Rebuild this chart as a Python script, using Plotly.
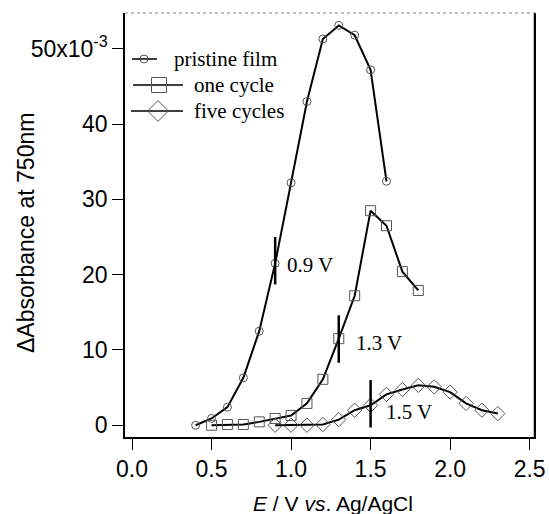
import plotly.graph_objects as go

# ---- data (y in units of 1e-3) ----
pristine_x = [0.4, 0.5, 0.6, 0.7, 0.8, 0.9, 1.0, 1.1, 1.2, 1.3, 1.4, 1.5, 1.6]
pristine_y = [0.0, 0.9, 2.4, 6.3, 12.5, 21.5, 32.2, 43.0, 51.3, 53.1, 51.8, 47.2, 32.4]

one_x = [0.5, 0.6, 0.7, 0.8, 0.9, 1.0, 1.1, 1.2, 1.3, 1.4, 1.5, 1.6, 1.7, 1.8]
one_y = [0.0, 0.1, 0.1, 0.45, 0.9, 1.3, 2.9, 6.1, 11.5, 17.2, 28.5, 26.5, 20.4, 17.9]

five_x = [0.9, 1.0, 1.1, 1.2, 1.3, 1.4, 1.5, 1.6, 1.7, 1.8, 1.9, 2.0, 2.1, 2.2, 2.3]
five_y = [0.0, 0.0, 0.0, 0.1, 0.75, 2.0, 2.65, 4.1, 4.75, 5.3, 5.1, 4.4, 2.9, 2.0, 1.55]

series_names = ["pristine film", "one cycle", "five cycles"]

# onset markers
marker_x = [0.9, 1.3, 1.5]
marker_ylo = [18.7, 8.3, -0.3]
marker_yhi = [25.0, 14.6, 6.0]
marker_labels = ["0.9 V", "1.3 V", "1.5 V"]
label_x = [0.965, 1.395, 1.585]
label_y = [21.3, 10.9, 1.8]

y_tickvals = [0, 10, 20, 30, 40, 50]
y_ticktext = ["0", "10", "20", "30", "40", "50x10<sup>-3</sup>"]
x_tickvals = [0.0, 0.5, 1.0, 1.5, 2.0, 2.5]

x_title = "<i>E</i> / V <i>vs</i>. Ag/AgCl"
y_title = "ΔAbsorbance at 750nm"

SERIF = "Liberation Serif"
SANS = "Liberation Sans"

# layout geometry (pixels)
W, H = 549, 514
L, R, T, B = 125, 13, 13, 77
PX0, PX1 = L, W - R          # plot left/right pixel
PY0, PY1 = H - B, T          # plot bottom/top pixel


def px_to_paper_x(px):
    return (px - PX0) / (PX1 - PX0)


def px_to_paper_y(py):
    return (PY0 - py) / (PY0 - PY1)


fig = go.Figure()

symbols = ["circle-open", "square-open", "diamond-open"]
sizes = [8, 10, 11]
for xs, ys, name, sym, sz in zip([pristine_x, one_x, five_x],
                                 [pristine_y, one_y, five_y],
                                 series_names, symbols, sizes):
    fig.add_trace(go.Scatter(
        x=xs, y=ys, name=name, mode="lines+markers", showlegend=False,
        line=dict(color="black", width=2),
        marker=dict(symbol=sym, size=sz, color="#555555",
                    line=dict(width=1, color="#555555")),
    ))

for xm, lo, hi in zip(marker_x, marker_ylo, marker_yhi):
    fig.add_trace(go.Scatter(
        x=[xm, xm], y=[lo, hi], mode="lines", showlegend=False,
        line=dict(color="black", width=2.5), hoverinfo="skip",
    ))

for lab, lx, ly in zip(marker_labels, label_x, label_y):
    fig.add_annotation(x=lx, y=ly, text=lab, showarrow=False, xanchor="left",
                       yanchor="middle", font=dict(family=SERIF, size=21, color="black"))

# ---- hand-drawn legend on a pixel-space overlay axis ----
leg_rows_y = [59, 85, 111]
leg_line_x0 = [132, 133, 131]
leg_line_x1 = [157, 183, 183]
leg_sym_x = [144, 159, 158]
leg_sym_size = [8, 15, 16]
leg_text_x = [172, 192, 192]
for i, name in enumerate(series_names):
    fig.add_trace(go.Scatter(
        x=[leg_line_x0[i], leg_line_x1[i]], y=[leg_rows_y[i], leg_rows_y[i]],
        xaxis="x2", yaxis="y2", mode="lines", showlegend=False, hoverinfo="skip",
        line=dict(color="black", width=1.5)))
    fig.add_trace(go.Scatter(
        x=[leg_sym_x[i]], y=[leg_rows_y[i]], xaxis="x2", yaxis="y2",
        mode="markers", showlegend=False, hoverinfo="skip",
        marker=dict(symbol=symbols[i], size=leg_sym_size[i], color="#555555",
                    line=dict(width=1, color="#555555"))))
    fig.add_annotation(x=leg_text_x[i], y=leg_rows_y[i], xref="x2", yref="y2",
                       text=name, showarrow=False, xanchor="left", yanchor="middle",
                       font=dict(family=SERIF, size=21, color="black"))

# right frame edge (heavy black) drawn in pixel space
frame_right_x = [PX1 - 1, PX1 - 1]
frame_right_y = [PY0, PY1]
fig.add_trace(go.Scatter(
    x=frame_right_x, y=frame_right_y, xaxis="x2", yaxis="y2", mode="lines",
    showlegend=False, hoverinfo="skip", cliponaxis=False,
    line=dict(color="black", width=2.5)))

# axis titles (paper coordinates, outside the plot area)
fig.add_annotation(x=px_to_paper_x((PX0 + PX1) / 2 + 2), y=px_to_paper_y(503),
                   xref="paper", yref="paper", text=x_title,
                   showarrow=False, xanchor="center", yanchor="middle",
                   font=dict(family=SANS, size=21, color="black"))
fig.add_annotation(x=px_to_paper_x(26), y=px_to_paper_y(233),
                   xref="paper", yref="paper", text=y_title, textangle=-90,
                   showarrow=False, xanchor="center", yanchor="middle",
                   font=dict(family=SANS, size=23, color="black"))

fig.update_layout(
    width=W, height=H, autosize=False,
    margin=dict(l=L, r=R, t=T, b=B, pad=0),
    paper_bgcolor="white", plot_bgcolor="white",
    showlegend=False,
    xaxis=dict(range=[-0.044, 2.54], tickvals=x_tickvals, tickformat=".1f",
               automargin=False,
               showgrid=False, zeroline=False, showline=True, linecolor="black",
               linewidth=1.5, ticks="outside", ticklen=11, tickwidth=1.2,
               tickcolor="black",
               tickfont=dict(family=SANS, size=23, color="black")),
    yaxis=dict(range=[-1.56, 54.75], tickvals=y_tickvals, ticktext=y_ticktext,
               automargin=False,
               showgrid=False, zeroline=False, showline=True, linecolor="black",
               linewidth=1.5, ticks="outside", ticklen=11, tickwidth=1.2,
               tickcolor="black",
               tickfont=dict(family=SANS, size=23, color="black")),
    xaxis2=dict(overlaying="x", range=[PX0, PX1], visible=False, automargin=False,
                showgrid=False, zeroline=False),
    yaxis2=dict(overlaying="y", range=[PY0, PY1], visible=False,
                automargin=False, showgrid=False, zeroline=False),
)

# frame: dotted grey top
fig.add_shape(type="line", xref="paper", yref="paper", x0=0, x1=1, y0=1, y1=1,
              line=dict(color="#888888", width=1.2, dash="dot"))

fig.write_html(
    "out.html",
    config={"displayModeBar": False, "responsive": False},
    post_script=(
        "document.documentElement.style.overflow='hidden';"
        "document.body.style.overflow='hidden';"
        "document.body.style.margin='0';document.body.style.padding='0';"
    ),
)
